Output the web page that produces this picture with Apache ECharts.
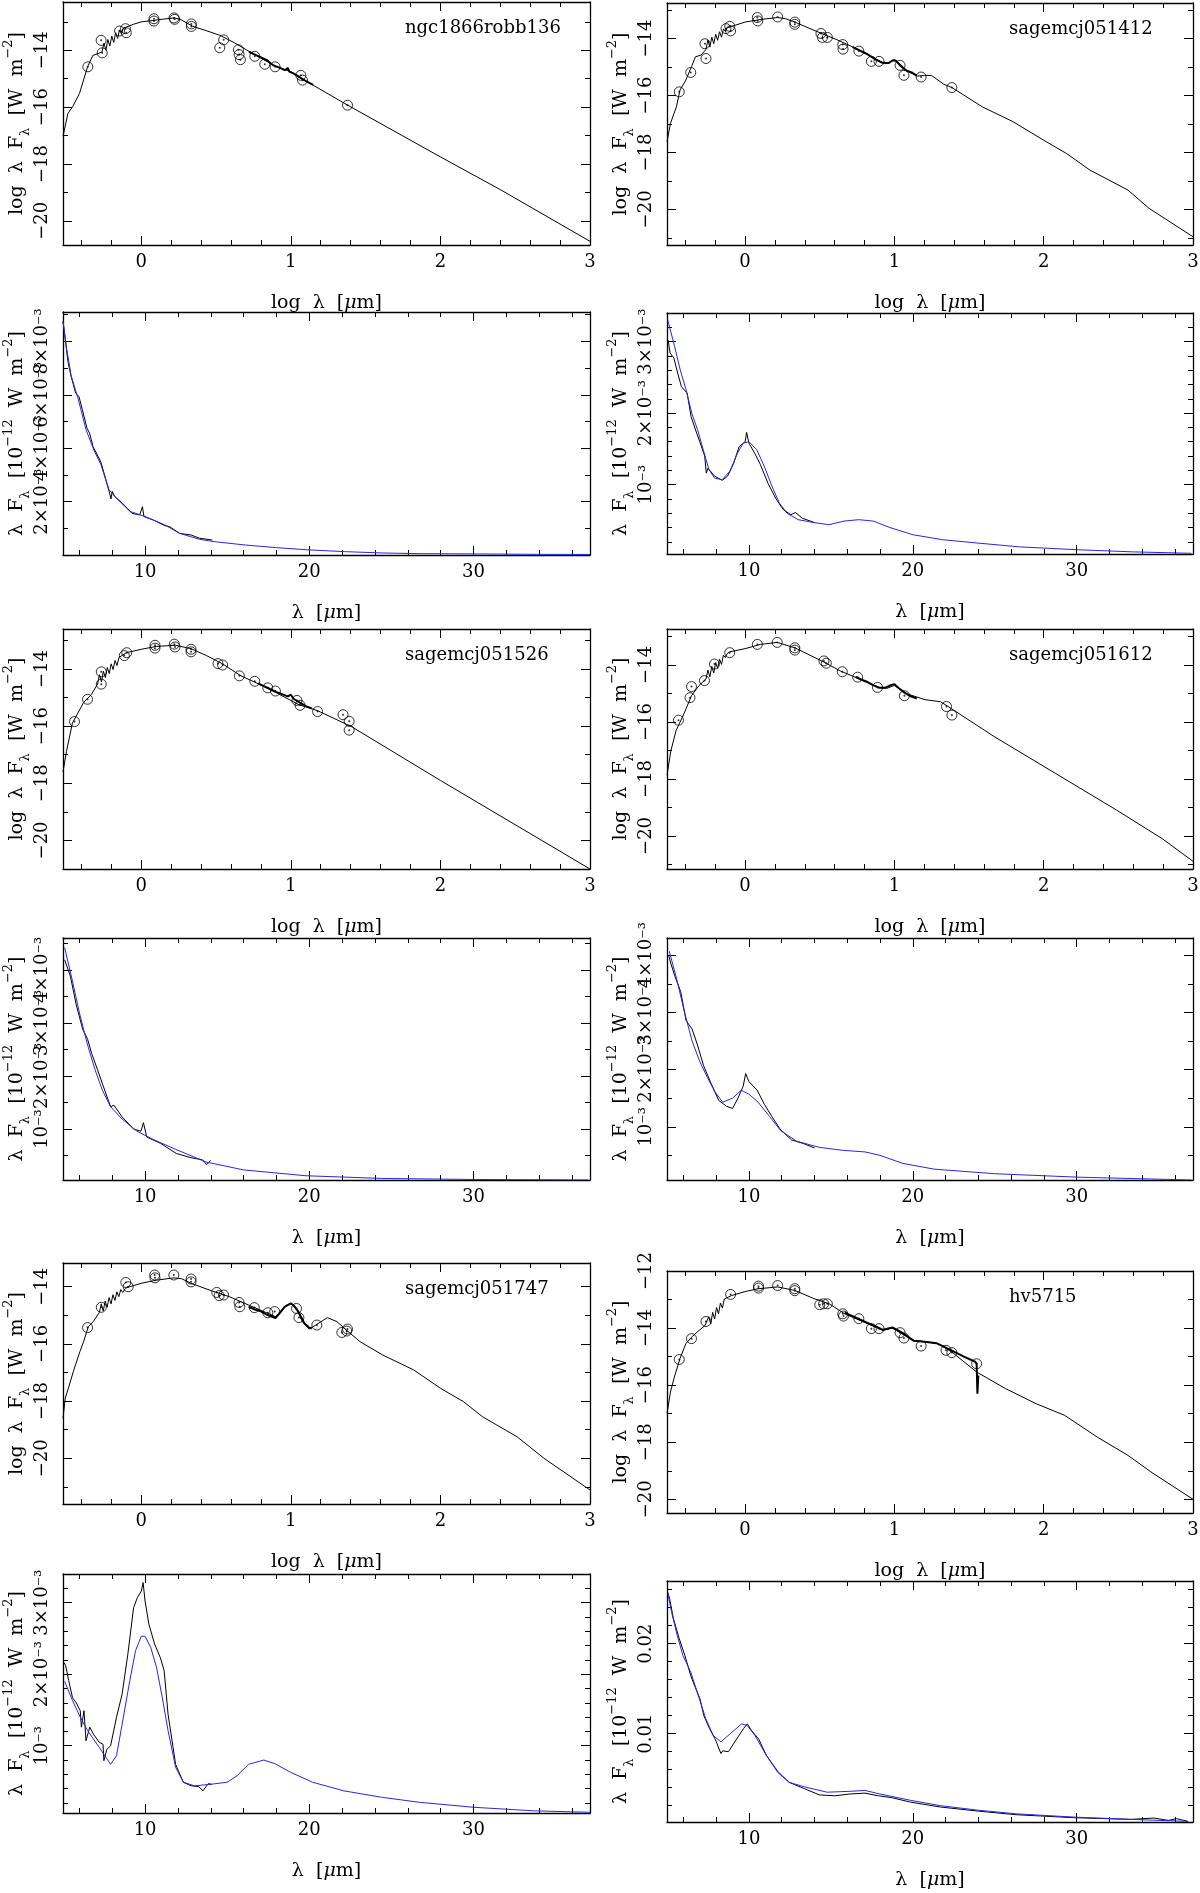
<!DOCTYPE html>
<html><head><meta charset="utf-8">
<script src="https://cdn.jsdelivr.net/npm/echarts@6/dist/echarts.min.js"></script>
<style>html,body{margin:0;padding:0;background:#fff}#c{width:1200px;height:1893px}</style>
</head><body><div id="c"></div>
<script>
// ================= DATA =================
const objectNames = ['ngc1866robb136','sagemcj051412','sagemcj051526','sagemcj051612','sagemcj051747','hv5715'];
const sedXTickLabels = ['0','1','2','3'];
const specXTickLabels = ['10','20','30'];

// ---- SED panels: [log lambda (um), log lambda F_lambda (W m^-2)] ----
const ngcModel = [[-0.523,-17.03],[-0.49,-16.22],[-0.458,-15.98],[-0.413,-15.52],[-0.36,-14.6],[-0.324,-14.18],[-0.29,-14.12],
 [-0.262,-14.05],[-0.249,-13.75],[-0.236,-14.0],[-0.223,-13.62],[-0.21,-13.85],[-0.197,-13.5],[-0.184,-13.72],[-0.171,-13.38],[-0.158,-13.58],[-0.145,-13.28],[-0.132,-13.42],[-0.12,-13.22],
 [-0.1,-13.18],[-0.05,-13.08],[0,-13.0],[0.078,-12.95],[0.15,-12.9],[0.223,-12.86],[0.268,-12.93],[0.346,-13.16],[0.43,-13.3],[0.525,-13.47],[0.614,-13.71],[0.748,-14.12],[0.904,-14.58],[1.0,-14.75],[1.15,-15.23],[1.38,-15.93],[2.0,-17.75],[2.4,-18.9],[3.0,-20.72]];
const ngcIRS = [[0.72,-14.05],[0.76,-14.15],[0.8,-14.25],[0.84,-14.35],[0.88,-14.52],[0.92,-14.6],[0.96,-14.7],[0.98,-14.62],[0.99,-14.75],[1.02,-14.82],[1.06,-14.95],[1.1,-15.08],[1.15,-15.22]];
const ngcPhot = [[-0.357,-14.58],[-0.268,-13.65],[-0.261,-14.09],[-0.145,-13.32],[-0.105,-13.24],[-0.1,-13.38],[0.085,-12.89],[0.085,-12.97],[0.219,-12.86],[0.223,-12.91],[0.335,-13.07],[0.335,-13.16],[0.525,-13.91],[0.551,-13.63],[0.65,-13.98],[0.654,-14.15],[0.663,-14.33],[0.759,-14.21],[0.826,-14.49],[0.895,-14.58],[1.067,-14.88],[1.078,-15.05],[1.379,-15.93]];

const s412Model = [[-0.523,-17.63],[-0.5,-16.98],[-0.46,-16.4],[-0.436,-15.81],[-0.397,-15.46],[-0.359,-14.99],[-0.333,-14.64],[-0.295,-14.58],
 [-0.262,-14.38],[-0.249,-14.05],[-0.236,-14.3],[-0.223,-13.95],[-0.21,-14.18],[-0.197,-13.85],[-0.184,-14.06],[-0.171,-13.76],[-0.158,-13.95],[-0.145,-13.66],[-0.132,-13.75],[-0.12,-13.62],
 [-0.09,-13.57],[0,-13.42],[0.103,-13.33],[0.218,-13.26],[0.27,-13.3],[0.333,-13.42],[0.462,-13.71],[0.615,-14.04],[0.77,-14.41],[0.85,-14.65],[0.923,-14.85],[0.96,-14.86],[1.0,-14.74],[1.04,-14.9],[1.077,-15.11],[1.154,-15.32],[1.2,-15.29],[1.25,-15.3],[1.33,-15.6],[1.385,-15.72],[1.59,-16.4],[1.795,-16.92],[2.0,-17.57],[2.154,-18.04],[2.31,-18.62],[2.564,-19.32],[2.705,-19.96],[3.0,-20.96]];
const s412IRS = [[0.72,-14.3],[0.77,-14.42],[0.82,-14.55],[0.87,-14.72],[0.92,-14.85],[0.96,-14.86],[0.99,-14.76],[1.01,-14.78],[1.04,-14.95],[1.08,-15.12],[1.12,-15.2],[1.15,-15.3]];
const s412Phot = [[-0.441,-15.87],[-0.364,-15.19],[-0.269,-14.18],[-0.262,-14.7],[-0.128,-13.65],[-0.103,-13.57],[-0.097,-13.73],[0.082,-13.26],[0.085,-13.38],[0.218,-13.24],[0.333,-13.42],[0.333,-13.5],[0.508,-13.82],[0.518,-13.96],[0.551,-13.96],[0.654,-14.21],[0.656,-14.37],[0.762,-14.44],[0.846,-14.8],[0.897,-14.8],[1.038,-14.94],[1.064,-15.29],[1.179,-15.35],[1.385,-15.72]];

const s526Model = [[-0.523,-17.6],[-0.5,-16.89],[-0.46,-15.89],[-0.385,-15.17],[-0.333,-14.89],
 [-0.292,-14.53],[-0.279,-14.2],[-0.266,-14.45],[-0.253,-14.08],[-0.24,-14.3],[-0.227,-13.95],[-0.214,-14.16],[-0.201,-13.82],[-0.188,-14.02],[-0.175,-13.7],[-0.162,-13.88],[-0.149,-13.6],[-0.136,-13.66],
 [-0.1,-13.43],[0,-13.31],[0.1,-13.21],[0.23,-13.17],[0.333,-13.29],[0.436,-13.53],[0.54,-13.81],[0.667,-14.24],[0.846,-14.67],[1.05,-15.24],[1.18,-15.46],[1.41,-16.03],[2.0,-17.9],[3.0,-21.0]];
const s526IRS = [[0.78,-14.5],[0.82,-14.6],[0.86,-14.7],[0.9,-14.8],[0.94,-14.88],[0.98,-14.96],[1.0,-14.9],[1.02,-15.05],[1.06,-15.18],[1.1,-15.3],[1.14,-15.38]];
const s526Phot = [[-0.446,-15.84],[-0.359,-15.06],[-0.267,-14.1],[-0.267,-14.53],[-0.113,-13.53],[-0.097,-13.43],[0.092,-13.17],[0.092,-13.27],[0.221,-13.13],[0.226,-13.23],[0.333,-13.31],[0.333,-13.4],[0.513,-13.81],[0.544,-13.86],[0.656,-14.24],[0.759,-14.43],[0.846,-14.66],[0.897,-14.77],[1.041,-15.1],[1.062,-15.27],[1.179,-15.49],[1.349,-15.6],[1.39,-15.83],[1.39,-16.14]];

const s612Model = [[-0.523,-17.87],[-0.497,-17.01],[-0.462,-16.3],[-0.41,-15.72],[-0.359,-15.08],[-0.308,-14.72],
 [-0.262,-14.5],[-0.249,-14.18],[-0.236,-14.42],[-0.223,-14.05],[-0.21,-14.28],[-0.197,-13.92],[-0.184,-14.12],[-0.171,-13.8],[-0.158,-13.98],[-0.145,-13.66],[-0.132,-13.74],[-0.12,-13.6],
 [-0.103,-13.54],[0,-13.43],[0.103,-13.28],[0.215,-13.21],[0.333,-13.4],[0.513,-13.86],[0.641,-14.22],[0.769,-14.5],[0.897,-14.79],[0.95,-14.82],[1.0,-14.72],[1.077,-15.0],[1.205,-15.22],[1.308,-15.29],[1.36,-15.46],[1.667,-16.51],[2.077,-17.8],[2.487,-19.09],[2.795,-20.1],[3.0,-20.89]];
const s612IRS = [[0.74,-14.42],[0.78,-14.52],[0.82,-14.6],[0.86,-14.72],[0.9,-14.8],[0.94,-14.8],[0.98,-14.7],[1.0,-14.68],[1.03,-14.82],[1.07,-14.98],[1.11,-15.1],[1.15,-15.18]];
const s612Phot = [[-0.446,-15.94],[-0.369,-15.15],[-0.359,-14.76],[-0.272,-14.55],[-0.205,-13.97],[-0.103,-13.57],[0.082,-13.28],[0.215,-13.21],[0.333,-13.4],[0.333,-13.48],[0.528,-13.86],[0.544,-13.94],[0.651,-14.24],[0.754,-14.43],[0.887,-14.79],[1.067,-15.08],[1.349,-15.46],[1.385,-15.76]];

const s747Model = [[-0.523,-18.6],[-0.508,-17.9],[-0.487,-17.55],[-0.454,-16.97],[-0.436,-16.68],[-0.41,-16.27],[-0.385,-15.92],[-0.354,-15.4],[-0.321,-15.22],
 [-0.28,-14.9],[-0.267,-14.6],[-0.254,-14.85],[-0.241,-14.5],[-0.228,-14.72],[-0.215,-14.38],[-0.202,-14.6],[-0.189,-14.28],[-0.176,-14.48],[-0.163,-14.18],[-0.15,-14.35],[-0.137,-14.1],[-0.124,-14.2],[-0.105,-14.05],
 [-0.077,-14.0],[0,-13.88],[0.103,-13.77],[0.218,-13.69],[0.27,-13.72],[0.333,-13.88],[0.474,-14.15],[0.59,-14.35],[0.718,-14.64],[0.846,-14.93],[0.897,-15.05],[0.949,-14.76],[0.995,-14.58],[1.038,-14.76],[1.077,-15.22],[1.123,-15.48],[1.167,-15.34],[1.244,-15.08],[1.308,-15.22],[1.372,-15.52],[1.462,-15.92],[1.615,-16.39],[1.821,-16.91],[2.0,-17.55],[2.154,-18.02],[2.282,-18.55],[2.513,-19.25],[2.692,-20.0],[3.0,-21.11]];
const s747IRS = [[0.718,-14.7],[0.76,-14.8],[0.8,-14.86],[0.846,-14.99],[0.897,-15.1],[0.93,-14.9],[0.96,-14.7],[1.0,-14.58],[1.02,-14.66],[1.05,-14.87],[1.09,-15.28],[1.12,-15.42],[1.14,-15.46]];
const s747Phot = [[-0.359,-15.43],[-0.267,-14.72],[-0.103,-13.85],[-0.087,-14.0],[0.09,-13.59],[0.092,-13.69],[0.218,-13.59],[0.333,-13.73],[0.333,-13.83],[0.505,-14.2],[0.521,-14.31],[0.551,-14.29],[0.654,-14.55],[0.659,-14.7],[0.756,-14.73],[0.846,-14.91],[0.892,-14.87],[1.038,-14.76],[1.054,-15.08],[1.174,-15.34],[1.341,-15.6],[1.374,-15.55],[1.379,-15.48]];

const hvModel = [[-0.523,-17.0],[-0.5,-16.24],[-0.474,-15.72],[-0.436,-15.07],[-0.397,-14.55],[-0.359,-14.32],[-0.321,-14.14],
 [-0.269,-13.91],[-0.256,-13.97],[-0.243,-13.6],[-0.23,-13.85],[-0.217,-13.45],[-0.204,-13.68],[-0.191,-13.28],[-0.178,-13.5],[-0.165,-13.12],[-0.152,-13.3],[-0.139,-12.98],[-0.126,-13.05],
 [-0.09,-12.86],[0,-12.72],[0.09,-12.62],[0.218,-12.56],[0.333,-12.68],[0.462,-12.97],[0.564,-13.15],[0.667,-13.5],[0.795,-13.79],[0.923,-14.08],[0.987,-14.0],[1.051,-14.2],[1.128,-14.43],[1.218,-14.49],[1.295,-14.55],[1.385,-14.84],[1.551,-15.54],[1.744,-16.12],[1.949,-16.65],[2.141,-17.06],[2.359,-17.82],[2.564,-18.46],[2.718,-19.04],[3.0,-20.0]];
const hvIRS = [[0.667,-13.46],[0.72,-13.58],[0.769,-13.7],[0.82,-13.82],[0.872,-13.93],[0.923,-14.06],[0.987,-13.98],[1.051,-14.16],[1.128,-14.44],[1.218,-14.49],[1.282,-14.53],[1.385,-14.79],[1.462,-14.99],[1.538,-15.17],[1.551,-15.25],[1.556,-16.3],[1.562,-15.66]];
const hvPhot = [[-0.441,-15.1],[-0.359,-14.37],[-0.262,-13.77],[-0.097,-12.82],[0.09,-12.53],[0.09,-12.6],[0.218,-12.51],[0.333,-12.62],[0.333,-12.69],[0.5,-13.18],[0.526,-13.15],[0.551,-13.15],[0.654,-13.5],[0.659,-13.58],[0.762,-13.67],[0.846,-14.02],[0.897,-14.02],[1.038,-14.16],[1.064,-14.35],[1.179,-14.63],[1.346,-14.78],[1.385,-14.86],[1.551,-15.25]];

// ---- Spectrum panels: [lambda (um), lambda F_lambda in units of 1e-3 x 1e-12 W m^-2] ----
const ngcSpecObs = [[5.0,8.75],[5.14,8.06],[5.3,7.25],[5.47,6.75],[5.77,6.06],[5.97,5.94],[6.18,5.44],[6.46,4.75],[6.62,4.56],[6.83,4.06],[7.19,3.63],[7.33,3.44],[7.64,2.75],[7.84,2.31],[7.92,2.1],[8.0,2.38],[8.15,2.19],[8.62,1.94],[9.2,1.56],[9.67,1.5],[9.84,1.81],[9.93,1.44],[10.5,1.31],[11.2,1.1],[11.5,1.06],[12.1,0.81],[12.8,0.75],[13.3,0.63],[14.1,0.56]];
const ngcSpecModel = [[5.0,8.75],[5.2,7.8],[5.5,6.7],[5.9,5.9],[6.4,4.7],[6.9,3.9],[7.3,3.4],[7.8,2.45],[8.15,2.19],[9.09,1.63],[10.0,1.44],[11.2,1.13],[12.1,0.81],[13.3,0.59],[14.2,0.5],[16.1,0.375],[18.0,0.275],[20.0,0.19],[22.2,0.125],[24.5,0.075],[26.8,0.05],[30.3,0.04],[33.9,0.025],[37.1,0.02]];

const s412SpecObs = [[5.07,3.02],[5.19,2.84],[5.42,2.77],[5.65,2.56],[5.88,2.37],[6.23,2.28],[6.47,1.95],[6.81,1.72],[7.0,1.6],[7.3,1.4],[7.4,1.16],[7.5,1.23],[7.9,1.12],[8.37,1.06],[8.7,1.12],[9.07,1.3],[9.4,1.53],[9.77,1.6],[9.86,1.73],[10.0,1.58],[10.35,1.44],[10.7,1.28],[11.16,1.02],[11.63,0.81],[12.1,0.65],[12.56,0.58],[12.84,0.61],[13.26,0.53],[14.0,0.47]];
const s412SpecModel = [[5.05,3.3],[5.16,3.2],[5.47,2.93],[5.81,2.6],[6.16,2.33],[6.51,2.0],[6.86,1.77],[7.21,1.49],[7.56,1.21],[7.91,1.09],[8.37,1.07],[8.84,1.19],[9.3,1.44],[9.65,1.58],[10.0,1.6],[10.47,1.49],[10.93,1.26],[11.4,0.98],[11.86,0.74],[12.33,0.6],[13.0,0.51],[13.95,0.47],[14.88,0.44],[15.8,0.49],[16.7,0.51],[17.6,0.49],[18.6,0.4],[20.0,0.3],[21.8,0.23],[24.1,0.18],[26.5,0.13],[30.0,0.09],[33.4,0.06],[37.0,0.04]];

const s526SpecObs = [[5.1,4.19],[5.45,3.88],[5.8,3.35],[6.2,2.88],[6.5,2.69],[6.75,2.42],[7.1,2.12],[7.45,1.81],[7.9,1.42],[8.1,1.45],[8.6,1.23],[9.3,1.0],[9.75,0.96],[9.87,0.98],[9.9,1.12],[10.1,0.85],[10.95,0.73],[11.9,0.54],[12.8,0.46],[13.5,0.42],[13.75,0.33],[14.0,0.41]];
const s526SpecModel = [[5.1,4.42],[5.56,3.81],[6.0,3.19],[6.5,2.58],[6.95,2.12],[7.4,1.73],[7.9,1.42],[8.6,1.19],[9.5,0.96],[10.45,0.81],[11.85,0.62],[13.7,0.38],[16.0,0.23],[19.8,0.12],[24.4,0.07],[30.0,0.05],[37.0,0.04]];

const s612SpecObs = [[5.1,4.0],[5.23,3.86],[5.47,3.64],[5.84,3.36],[6.16,2.86],[6.53,2.71],[6.86,2.43],[7.23,2.07],[7.7,1.75],[8.16,1.46],[8.63,1.36],[9.0,1.32],[9.33,1.5],[9.65,1.71],[9.8,1.93],[10.0,1.79],[10.5,1.64],[10.95,1.39],[11.4,1.18],[11.9,0.96],[12.6,0.77],[13.3,0.71],[14.0,0.63]];
const s612SpecModel = [[5.14,4.07],[5.6,3.57],[6.07,3.0],[6.53,2.5],[7.0,2.14],[7.47,1.86],[7.93,1.61],[8.4,1.43],[9.0,1.5],[9.53,1.64],[10.0,1.57],[10.56,1.43],[11.26,1.18],[11.95,0.93],[12.9,0.75],[14.3,0.64],[15.7,0.59],[17.1,0.56],[18.0,0.5],[19.4,0.36],[21.3,0.26],[25.0,0.18],[30.0,0.12],[37.0,0.07]];

const s747SpecObs = [[5.07,2.16],[5.16,2.12],[5.35,1.91],[5.58,1.67],[5.81,1.6],[6.05,1.49],[6.12,1.26],[6.28,1.49],[6.4,1.07],[6.63,1.26],[6.86,1.16],[7.2,1.05],[7.44,1.02],[7.49,0.79],[7.67,0.95],[7.9,1.0],[8.26,1.4],[8.6,1.72],[8.95,2.28],[9.3,2.93],[9.53,3.07],[9.77,3.16],[9.88,3.28],[10.0,3.02],[10.23,2.7],[10.58,2.42],[10.93,2.23],[11.16,2.05],[11.4,1.44],[11.86,0.74],[12.33,0.49],[12.8,0.44],[13.26,0.43],[13.53,0.37],[13.84,0.47],[14.07,0.46]];
const s747SpecModel = [[5.1,1.9],[5.58,1.63],[6.05,1.4],[6.5,1.21],[7.2,0.98],[7.9,0.74],[8.26,0.86],[8.6,1.3],[9.07,1.91],[9.42,2.33],[9.77,2.53],[10.0,2.53],[10.35,2.37],[10.7,2.09],[11.05,1.67],[11.4,1.21],[11.86,0.7],[12.33,0.49],[13.0,0.44],[13.95,0.46],[15.0,0.49],[15.6,0.58],[16.3,0.74],[17.23,0.8],[17.9,0.75],[18.85,0.63],[20.2,0.49],[22.1,0.37],[24.4,0.28],[26.7,0.21],[30.0,0.14],[33.7,0.09],[37.1,0.07]];

const hvSpecObs = [[5.05,25.7],[5.16,25.0],[5.39,22.8],[5.74,20.6],[6.09,18.7],[6.44,16.5],[6.67,15.4],[7.01,13.9],[7.25,12.0],[7.59,10.6],[7.94,9.4],[8.29,7.8],[8.4,8.1],[8.75,8.0],[9.21,9.3],[9.68,10.6],[9.9,11.1],[10.14,10.4],[10.6,9.4],[11.06,7.6],[11.76,5.8],[12.45,4.6],[13.38,3.9],[14.3,3.2],[15.23,3.1],[16.16,3.3],[17.08,3.4],[17.9,3.1],[18.7,2.9],[19.86,2.4],[21.7,1.85],[24.0,1.4],[26.3,1.0],[29.8,0.67],[33.3,0.48],[34.7,0.63],[35.6,0.37],[36.1,0.56],[36.8,0.26]];
const hvSpecModel = [[5.05,25.6],[5.28,23.5],[5.63,20.9],[5.97,18.7],[6.44,16.9],[6.9,14.3],[7.36,11.7],[7.82,9.8],[8.29,9.1],[8.86,10.0],[9.56,11.1],[9.9,10.9],[10.37,9.8],[11.06,7.6],[11.76,5.7],[12.45,4.6],[13.38,4.1],[14.77,3.5],[16.16,3.6],[17.08,3.7],[18.0,3.3],[19.86,2.6],[21.7,2.0],[24.0,1.5],[26.3,1.1],[29.8,0.74],[33.3,0.48],[36.8,0.26]];

// ================= LAYOUT =================
const FONT = 'DejaVu Serif';
const panels = [
 {kind:'sed', name:0, model:ngcModel, irs:ngcIRS, phot:ngcPhot, left:63, top:2, w:527, h:243, ymin:-20.85, ymax:-12.3},
 {kind:'sed', name:1, model:s412Model, irs:s412IRS, phot:s412Phot, left:667, top:3, w:526, h:242, ymin:-21.25, ymax:-12.75},
 {kind:'spec', obs:ngcSpecObs, model:ngcSpecModel, left:63, top:312, w:527, h:243, ymin:0, ymax:9.1, yint:2, yminor:2, lab:'e3'},
 {kind:'spec', obs:s412SpecObs, model:s412SpecModel, left:667, top:313, w:526, h:241, ymin:0.03, ymax:3.4, yint:1, yminor:5, lab:'e3'},
 {kind:'sed', name:2, model:s526Model, irs:s526IRS, phot:s526Phot, left:63, top:629, w:527, h:240, ymin:-21.0, ymax:-12.6},
 {kind:'sed', name:3, model:s612Model, irs:s612IRS, phot:s612Phot, left:667, top:629, w:526, h:240, ymin:-21.16, ymax:-12.74},
 {kind:'spec', obs:s526SpecObs, model:s526SpecModel, left:63, top:938, w:527, h:242, ymin:0.04, ymax:4.6, yint:1, yminor:2, lab:'e3'},
 {kind:'spec', obs:s612SpecObs, model:s612SpecModel, left:667, top:938, w:526, h:242, ymin:0.07, ymax:4.3, yint:1, yminor:2, lab:'e3'},
 {kind:'sed', name:4, model:s747Model, irs:s747IRS, phot:s747Phot, left:63, top:1263, w:527, h:241, ymin:-21.6, ymax:-13.17},
 {kind:'sed', name:5, model:hvModel, irs:hvIRS, phot:hvPhot, left:667, top:1271, w:526, h:242, ymin:-20.48, ymax:-12.0},
 {kind:'spec', obs:s747SpecObs, model:s747SpecModel, left:63, top:1574, w:527, h:239, ymin:0.06, ymax:3.4, yint:1, yminor:5, lab:'e3'},
 {kind:'spec', obs:hvSpecObs, model:hvSpecModel, left:667, top:1581, w:526, h:241, ymin:0.19, ymax:26.97, yint:10, yminor:5, lab:'dec'}
];

const isInt = v => Math.abs(v - Math.round(v)) < 1e-6;
const richStyles = {
  s: {fontFamily: FONT, fontSize: 13, lineHeight: 30, verticalAlign: 'bottom', color:'#000'},
  p: {fontFamily: FONT, fontSize: 13, lineHeight: 30, verticalAlign: 'top', color:'#000'},
  i: {fontFamily: FONT, fontSize: 19, lineHeight: 30, fontStyle: 'italic', color:'#000'}
};
const nameStyle = {fontFamily: FONT, fontSize: 19, lineHeight: 30, color: '#000', rich: richStyles};

function baseAxis(min, max, interval, minorSplit) {
  return {
    type: 'value', min, max, minInterval: interval, maxInterval: interval, splitNumber: 4,
    axisLine: {show: true, onZero: false, lineStyle: {color: '#000', width: 1.3}},
    axisTick: {show: true, inside: true, length: 9, lineStyle: {color: '#000', width: 1}},
    minorTick: {show: true, splitNumber: minorSplit, length: 5, lineStyle: {color: '#000', width: 1}},
    splitLine: {show: false}, minorSplitLine: {show: false},
    nameMoveOverlap: false
  };
}

const grids = [], xAxes = [], yAxes = [], series = [], graphics = [];
panels.forEach((p, i) => {
  grids.push({left: p.left, top: p.top, width: p.w, height: p.h, containLabel: false, outerBoundsMode: 'none'});
  const sed = p.kind === 'sed';
  const xmin = sed ? -0.523 : 5, xmax = sed ? 3 : 37.1;
  const xint = sed ? 1 : 10, xminor = 5;
  const xFmt = sed
    ? (v => isInt(v) && sedXTickLabels.includes(String(Math.round(v))) ? String(Math.round(v)) : '')
    : (v => isInt(v) && specXTickLabels.includes(String(Math.round(v))) ? String(Math.round(v)) : '');
  xAxes.push(Object.assign(baseAxis(xmin, xmax, xint, xminor), {
    gridIndex: i, position: 'bottom',
    axisLabel: {show: true, margin: 8, formatter: xFmt, fontFamily: FONT, fontSize: 18, color: '#000', hideOverlap: false},
    name: sed ? 'log  λ  [{i|μ}m]' : 'λ  [{i|μ}m]', nameLocation: 'middle', nameGap: 43, nameTextStyle: nameStyle
  }));
  xAxes.push(Object.assign(baseAxis(xmin, xmax, xint, xminor), {
    gridIndex: i, position: 'top', axisLabel: {show: false}
  }));
  let yFmt, yint, yminor;
  if (sed) {
    yint = 2; yminor = 2;
    yFmt = v => { if (!isInt(v)) return ''; const r = Math.round(v); if (r % 2) return ''; return (r < 0 ? '−' : '') + Math.abs(r); };
  } else if (p.lab === 'e3') {
    yint = p.yint; yminor = p.yminor;
    yFmt = v => { if (!isInt(v)) return ''; const r = Math.round(v); if (r <= 0 || r % p.yint) return ''; return r === 1 ? '10⁻³' : r + '×10⁻³'; };
  } else {
    yint = p.yint; yminor = p.yminor;
    yFmt = v => { if (!isInt(v)) return ''; const r = Math.round(v); if (r <= 0 || r % 10) return ''; return (r / 1000).toFixed(2); };
  }
  yAxes.push(Object.assign(baseAxis(p.ymin, p.ymax, yint, yminor), {
    gridIndex: i, position: 'left',
    axisLabel: {show: true, rotate: 90, margin: 12, formatter: yFmt, fontFamily: FONT, fontSize: 18, color: '#000', hideOverlap: false},
    name: sed ? 'log  λ  F{s|λ}  [W  m{p|−2}]' : 'λ  F{s|λ}  [10{p|−12}  W  m{p|−2}]',
    nameLocation: 'middle', nameRotate: 90, nameGap: 31, nameTextStyle: nameStyle
  }));
  yAxes.push(Object.assign(baseAxis(p.ymin, p.ymax, yint, yminor), {
    gridIndex: i, position: 'right', axisLabel: {show: false}
  }));
  const xi = 2 * i, yi = 2 * i;
  if (sed) {
    series.push({type: 'line', xAxisIndex: xi, yAxisIndex: yi, data: p.model, symbol: 'none', silent: true,
      lineStyle: {color: '#000', width: 1}, z: 2});
    series.push({type: 'line', xAxisIndex: xi, yAxisIndex: yi, data: p.irs, symbol: 'none', silent: true,
      lineStyle: {color: '#000', width: 2}, z: 3});
    series.push({type: 'scatter', xAxisIndex: xi, yAxisIndex: yi, data: p.phot, symbol: 'circle', symbolSize: 10, silent: true,
      itemStyle: {color: 'rgba(0,0,0,0)', borderColor: '#000', borderWidth: 1}, z: 4});
    series.push({type: 'scatter', xAxisIndex: xi, yAxisIndex: yi, data: p.phot, symbol: 'circle', symbolSize: 2, silent: true,
      itemStyle: {color: '#000'}, z: 4});
    graphics.push({type: 'text', x: p.left + 342, y: p.top + 26, silent: true,
      style: {text: objectNames[p.name], fontFamily: FONT, fontSize: 18, fill: '#000', align: 'left', verticalAlign: 'middle'}});
  } else {
    series.push({type: 'line', xAxisIndex: xi, yAxisIndex: yi, data: p.obs, symbol: 'none', silent: true,
      lineStyle: {color: '#000', width: 1}, z: 2});
    series.push({type: 'line', xAxisIndex: xi, yAxisIndex: yi, data: p.model, symbol: 'none', silent: true,
      lineStyle: {color: '#2626e6', width: 1}, z: 3});
  }
});

const chart = echarts.init(document.getElementById('c'), null, {renderer: 'canvas'});
chart.setOption({
  backgroundColor: '#fff', animation: false,
  grid: grids, xAxis: xAxes, yAxis: yAxes, series, graphic: graphics
});
</script></body></html>
